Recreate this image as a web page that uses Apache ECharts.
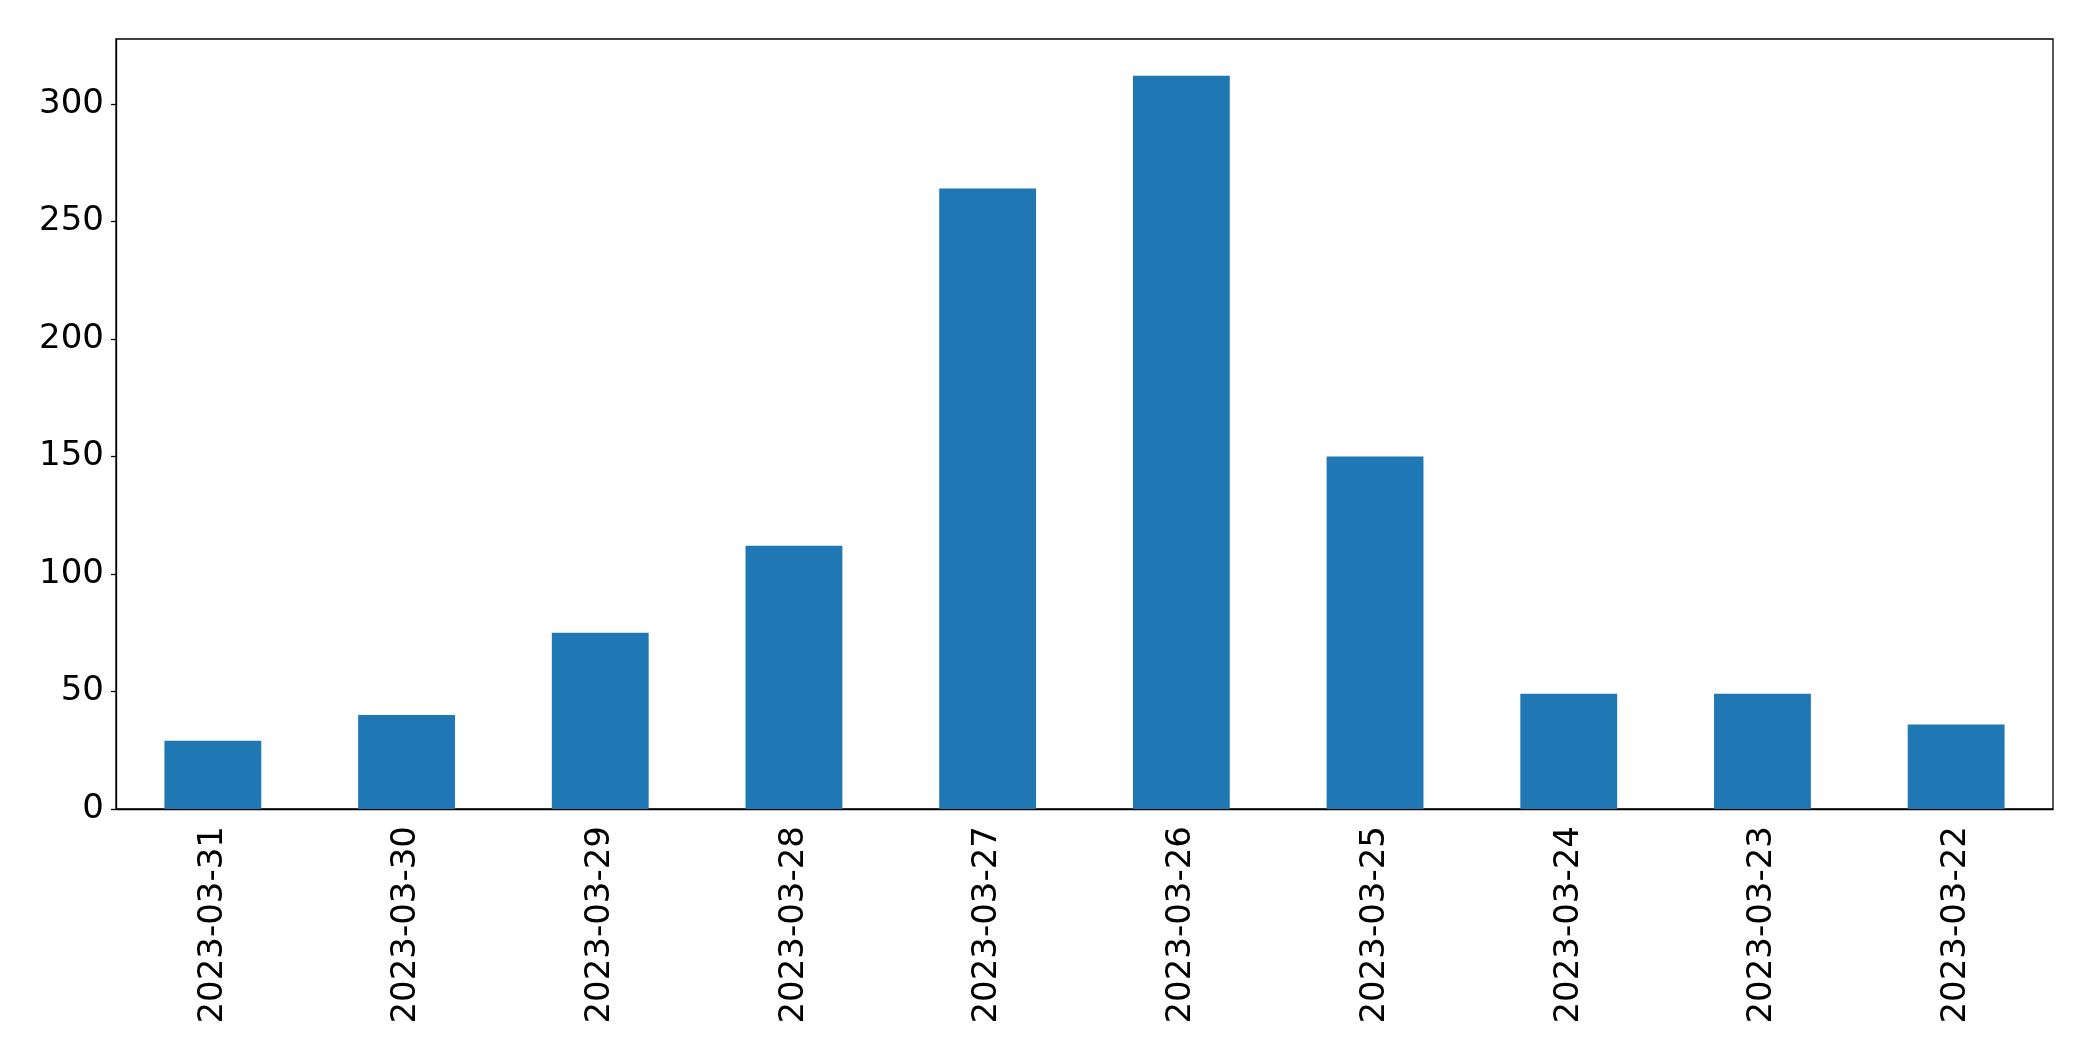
<!DOCTYPE html>
<html>
<head>
<meta charset="utf-8">
<script src="https://cdn.jsdelivr.net/npm/echarts@6/dist/echarts.min.js"></script>
<style>html,body{margin:0;padding:0;background:#fff}#c{width:2093px;height:1061px}</style>
</head>
<body>
<div id="c"></div>
<script>
const categories = ['2023-03-31','2023-03-30','2023-03-29','2023-03-28','2023-03-27','2023-03-26','2023-03-25','2023-03-24','2023-03-23','2023-03-22'];
const values = [29, 40, 75, 112, 264, 312, 150, 49, 49, 36];
const yTicks = [0, 50, 100, 150, 200, 250, 300];
const yMax = 312 * 1.05;

const chart = echarts.init(document.getElementById('c'), null, {renderer: 'canvas'});
const font = 'DejaVu Sans';
chart.setOption({
  animation: false,
  backgroundColor: '#fff',
  grid: {left: 116, right: 40, top: 39, bottom: 252, show: true, borderColor: '#000', borderWidth: 1.3, containLabel: false},
  xAxis: {
    type: 'category',
    data: categories,
    axisLine: {lineStyle: {color: '#000', width: 1.3}},
    axisTick: {alignWithLabel: true, length: 5, lineStyle: {color: '#000', width: 1.3}},
    axisLabel: {rotate: 90, margin: 17, color: '#000', fontFamily: font, fontSize: 34, interval: 0},
    splitLine: {show: false}
  },
  yAxis: {
    type: 'value',
    min: 0,
    max: yMax,
    axisLine: {show: true, lineStyle: {color: '#000', width: 1.3}},
    axisTick: {show: true, length: 5, customValues: yTicks, lineStyle: {color: '#000', width: 1.3}},
    axisLabel: {margin: 12, color: '#000', fontFamily: font, fontSize: 34, customValues: yTicks},
    splitLine: {show: false}
  },
  series: [{
    type: 'bar',
    data: values,
    barWidth: '50%',
    itemStyle: {color: '#1f77b4'}
  }]
});
</script>
</body>
</html>
